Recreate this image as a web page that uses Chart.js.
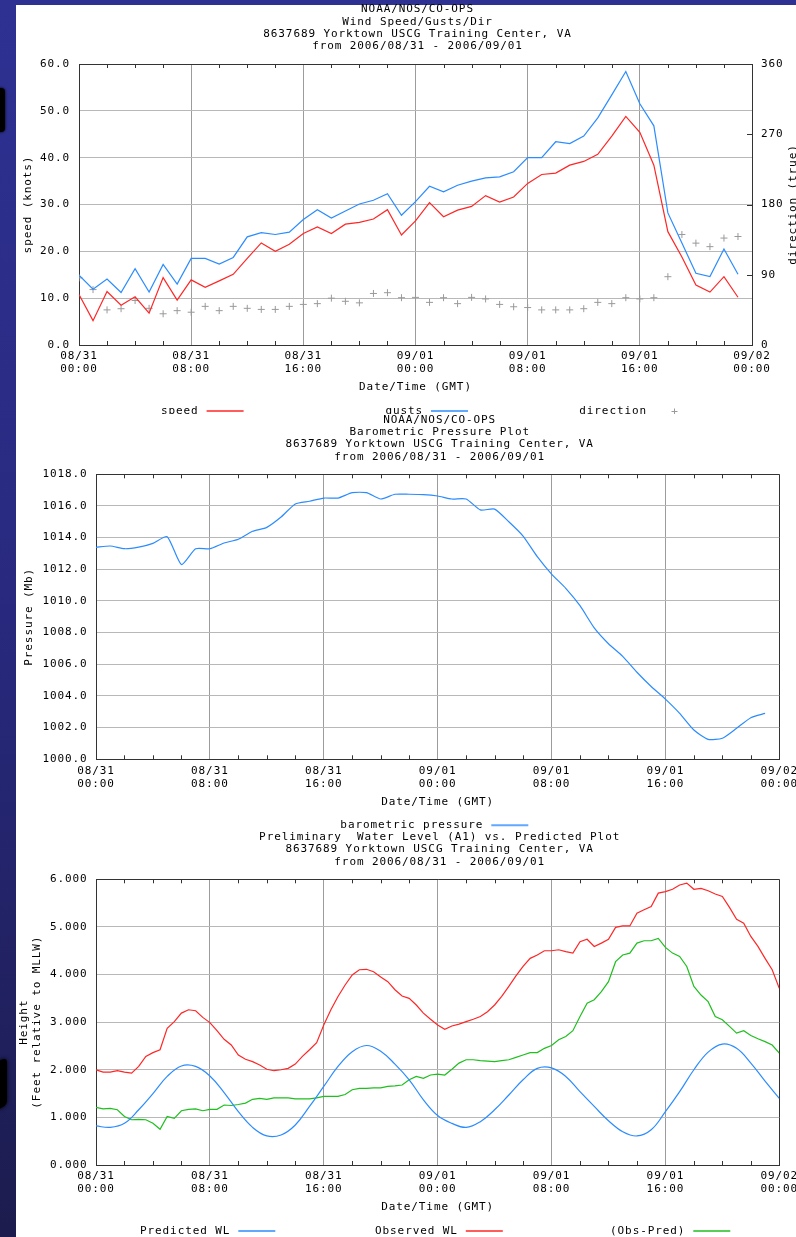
<!DOCTYPE html>
<html>
<head>
<meta charset="utf-8">
<script src="https://cdn.jsdelivr.net/npm/chart.js@4.4.1/dist/chart.umd.min.js"></script>
<style>
html, body { margin: 0; padding: 0; width: 796px; height: 1237px; overflow: hidden; }
body { position: relative; background: linear-gradient(180deg, #2e3192 0%, #28297e 50%, #1c1c4e 100%); }
#hoja { position: absolute; left: 16px; top: 5px; width: 780px; height: 1232px; background: #fff; }
.mancha { position: absolute; background: #000; }
canvas { position: absolute; left: 16px; }
#c2 { background: #fff; }
</style>
</head>
<body>
<div id="hoja"></div>
<div class="mancha" style="left:-6px; top:88px; width:11px; height:44px; border-radius:4px; box-shadow:0 0 3px #000;"></div>
<div class="mancha" style="left:-5px; top:1060px; width:12px; height:48px; border-radius:5px; transform:skewY(-25deg); box-shadow:0 0 4px #000;"></div>
<canvas id="c1" width="800" height="414" style="top:0px; width:800px; height:414px;"></canvas>
<canvas id="c2" width="800" height="418" style="top:414px; width:800px; height:418px;"></canvas>
<canvas id="c3" width="800" height="417" style="top:820px; width:800px; height:417px;"></canvas>
<script>
/* ── DATOS ── */
/* Etiquetas del eje X (cada 8 horas, de 08/31 00:00 a 09/02 00:00) */
var xTickLabels = [['08/31', '00:00'], ['08/31', '08:00'], ['08/31', '16:00'], ['09/01', '00:00'],
                   ['09/01', '08:00'], ['09/01', '16:00'], ['09/02', '00:00']];

/* Viento: un valor por hora (00:00 .. 23:00 del día siguiente) */
var windSpeed = [10.8, 5.2, 11.4, 8.5, 10.3, 6.8, 14.4, 9.6, 13.9, 12.3, 13.7, 15.1,
                 18.5, 21.8, 20.0, 21.5, 23.8, 25.2, 23.8, 25.8, 26.2, 26.9, 28.9, 23.5,
                 26.5, 30.4, 27.4, 28.8, 29.6, 31.9, 30.5, 31.6, 34.5, 36.4, 36.7, 38.4,
                 39.2, 40.7, 44.6, 48.8, 45.4, 38.4, 24.2, 18.8, 12.8, 11.3, 14.6, 10.2];
var windGusts = [14.9, 11.9, 14.1, 11.2, 16.3, 11.3, 17.2, 13.0, 18.5, 18.5, 17.3, 18.7,
                 23.1, 24.0, 23.6, 24.1, 26.8, 28.9, 27.1, 28.6, 30.1, 30.9, 32.3, 27.7,
                 30.6, 33.9, 32.7, 34.1, 35.0, 35.7, 35.9, 37.0, 40.0, 40.0, 43.4, 43.0,
                 44.6, 48.5, 53.4, 58.4, 51.5, 46.8, 28.2, 21.8, 15.3, 14.6, 20.5, 15.1];
var windDir = [86, 71, 45, 46.5, 57, 47, 40, 44, 42, 49.5, 44, 49.5,
               47, 45.6, 45.6, 49.5, 52, 53, 60, 56, 54, 66, 67, 60.6,
               61, 54.6, 60.6, 53, 61, 59, 52, 49, 48, 45, 45, 45,
               46.5, 54.6, 53, 60.6, 59, 60.6, 87.5, 141.6, 130.5, 126, 137, 139];
var speedTicks = ['0.0', '10.0', '20.0', '30.0', '40.0', '50.0', '60.0'];
var dirTicks = ['0', '90', '180', '270', '360'];

/* Presión barométrica: un valor por hora */
var pressure = [1013.39, 1013.47, 1013.3, 1013.4, 1013.64, 1014.06, 1012.3, 1013.3, 1013.3, 1013.66, 1013.9, 1014.4,
                1014.65, 1015.3, 1016.13, 1016.3, 1016.5, 1016.5, 1016.84, 1016.84, 1016.44, 1016.74, 1016.74, 1016.72,
                1016.63, 1016.44, 1016.44, 1015.75, 1015.8, 1015.0, 1014.1, 1012.8, 1011.7, 1010.8, 1009.7, 1008.3,
                1007.3, 1006.5, 1005.5, 1004.6, 1003.8, 1002.9, 1001.85, 1001.26, 1001.33, 1001.96, 1002.63, 1002.9];
var pressureTicks = ['1000.0', '1002.0', '1004.0', '1006.0', '1008.0', '1010.0', '1012.0', '1014.0', '1016.0', '1018.0'];

/* Nivel del agua: predicho cada hora, observado y diferencia cada media hora */
var predictedWL = [0.82, 0.79, 0.875, 1.16, 1.5, 1.86, 2.08, 2.07, 1.87, 1.52, 1.12, 0.79,
                   0.61, 0.63, 0.84, 1.23, 1.65, 2.07, 2.38, 2.51, 2.39, 2.12, 1.79, 1.37,
                   1.04, 0.875, 0.79, 0.91, 1.16, 1.47, 1.79, 2.03, 2.04, 1.86, 1.54, 1.23,
                   0.93, 0.70, 0.61, 0.74, 1.12, 1.54, 2.0, 2.37, 2.54, 2.45, 2.14, 1.76, 1.40];
var observedWL = [2.0, 1.95, 1.95, 1.98, 1.95, 1.93, 2.07, 2.28, 2.36, 2.42, 2.87, 3.01,
                  3.19, 3.26, 3.24, 3.10, 2.99, 2.82, 2.64, 2.52, 2.31, 2.22, 2.17, 2.10,
                  2.01, 1.98, 2.0, 2.03, 2.12, 2.28, 2.42, 2.57, 2.94, 3.26, 3.54, 3.78,
                  3.99, 4.10, 4.11, 4.06, 3.95, 3.85, 3.68, 3.55, 3.50, 3.36, 3.19, 3.06,
                  2.94, 2.85, 2.92, 2.96, 3.01, 3.06, 3.12, 3.22, 3.36, 3.54, 3.75, 3.97,
                  4.17, 4.34, 4.41, 4.50, 4.50, 4.52, 4.48, 4.45, 4.69, 4.74, 4.59, 4.66,
                  4.74, 4.99, 5.02, 5.02, 5.29, 5.36, 5.43, 5.71, 5.74, 5.79, 5.88, 5.92,
                  5.79, 5.81, 5.76, 5.69, 5.64, 5.41, 5.16, 5.08, 4.80, 4.59, 4.34, 4.10, 3.71];
var obsMinusPred = [1.21, 1.18, 1.19, 1.16, 1.02, 0.95, 0.96, 0.95, 0.875, 0.75, 1.02, 0.98,
                    1.14, 1.17, 1.18, 1.14, 1.17, 1.17, 1.26, 1.25, 1.27, 1.30, 1.38, 1.40,
                    1.38, 1.41, 1.41, 1.41, 1.39, 1.39, 1.39, 1.41, 1.44, 1.44, 1.44, 1.48,
                    1.58, 1.61, 1.61, 1.62, 1.62, 1.65, 1.66, 1.68, 1.79, 1.86, 1.82, 1.89,
                    1.91, 1.89, 2.01, 2.14, 2.21, 2.21, 2.19, 2.18, 2.17, 2.19, 2.21, 2.26,
                    2.31, 2.36, 2.36, 2.45, 2.51, 2.63, 2.70, 2.82, 3.12, 3.40, 3.47, 3.64,
                    3.85, 4.27, 4.41, 4.45, 4.66, 4.71, 4.71, 4.76, 4.57, 4.45, 4.38, 4.17,
                    3.75, 3.57, 3.43, 3.12, 3.05, 2.91, 2.77, 2.82, 2.72, 2.65, 2.59, 2.52, 2.35];
var heightTicks = ['0.000', '1.000', '2.000', '3.000', '4.000', '5.000', '6.000'];

var stationLine = '8637689 Yorktown USCG Training Center, VA';
var dateLine = 'from 2006/08/31 - 2006/09/01';

/* ── ESTILO GLOBAL ── */
var FAMILIA = "'DejaVu Sans Mono', 'Liberation Mono', monospace";
var FUENTE = '11px ' + FAMILIA;
var ESPACIADO = '0.9px'; /* letras separadas como en la fuente original */
var BORDE = '#333333';
var GRID_H = '#b8b8b8';
var GRID_V = '#9c9c9c';
var ROJO = '#ff2626';
var AZUL = '#2b8cff';
var VERDE = '#1fbf1f';
Chart.defaults.color = '#000';
Chart.defaults.font.family = FAMILIA;
Chart.defaults.font.size = 11;
Chart.defaults.font.lineHeight = '13px';
Chart.defaults.animation = false;
Chart.defaults.events = [];
Chart.defaults.plugins.legend.display = false;
Chart.defaults.plugins.tooltip.enabled = false;

/* Convierte una serie en puntos {x: hora, y: valor} */
function enHoras(valores, paso) {
    return valores.map(function (v, i) { return { x: i * paso, y: v }; });
}

/* ── PLUGIN: títulos, leyenda y marcas menores ── */
function crearAdornos(cfg) {
    return {
        id: 'adornos',
        /* el canvas pierde su estado al redimensionarse: se vuelve a poner el espaciado */
        beforeUpdate: function (chart) { chart.ctx.letterSpacing = ESPACIADO; },
        beforeDraw: function (chart) { chart.ctx.letterSpacing = ESPACIADO; },
        afterDraw: function (chart) {
            var ctx = chart.ctx, a = chart.chartArea, x = chart.scales.x;
            ctx.save();
            /* marcas cada 2 horas arriba y abajo */
            ctx.strokeStyle = BORDE;
            ctx.lineWidth = 1;
            ctx.beginPath();
            for (var h = 2; h < 48; h += 2) {
                if (h % 8 === 0) continue;
                var px = Math.round(x.getPixelForValue(h)) + 0.5;
                ctx.moveTo(px, a.top); ctx.lineTo(px, a.top + 4);
                ctx.moveTo(px, a.bottom); ctx.lineTo(px, a.bottom - 4);
            }
            /* marcas hacia dentro del eje derecho */
            if (chart.scales.y2) {
                var s2 = chart.scales.y2;
                s2.ticks.forEach(function (t) {
                    var py = Math.round(s2.getPixelForValue(t.value)) + 0.5;
                    ctx.moveTo(a.right, py); ctx.lineTo(a.right - 5, py);
                });
            }
            ctx.stroke();

            /* título de varias líneas centrado sobre el área del gráfico */
            ctx.fillStyle = '#000';
            ctx.font = FUENTE;
            ctx.textBaseline = 'middle';
            ctx.textAlign = 'center';
            var cx = (a.left + a.right) / 2 + 2;
            var n = cfg.title.length;
            cfg.title.forEach(function (t, i) {
                ctx.fillText(t, cx, a.top - 17.5 - (n - 1 - i) * 12.3);
            });

            /* leyenda: texto y muestra a la derecha */
            var ly = a.bottom + 66;
            chart.data.datasets.forEach(function (ds, i) {
                var fin = a.left + cfg.legendEnds[i];
                ctx.textAlign = 'right';
                ctx.fillStyle = '#000';
                ctx.fillText(ds.label, fin - 45, ly);
                ctx.strokeStyle = ds.borderColor;
                if (ds.showLine === false) {
                    ctx.lineWidth = 1;
                    var c = Math.round(fin - 18) + 0.5, cy = Math.round(ly) + 0.5;
                    ctx.beginPath();
                    ctx.moveTo(c - 3, cy); ctx.lineTo(c + 3, cy);
                    ctx.moveTo(c, cy - 3); ctx.lineTo(c, cy + 3);
                    ctx.stroke();
                } else {
                    ctx.globalAlpha = 0.75;
                    ctx.lineWidth = 2;
                    ctx.beginPath();
                    ctx.moveTo(fin - 37, ly); ctx.lineTo(fin, ly);
                    ctx.stroke();
                    ctx.globalAlpha = 1;
                }
            });

            /* título del eje derecho, leído de abajo hacia arriba */
            if (cfg.rightTitle) {
                ctx.fillStyle = '#000';
                ctx.translate(a.right + 41.5, (a.top + a.bottom) / 2);
                ctx.rotate(-Math.PI / 2);
                ctx.textAlign = 'center';
                ctx.fillText(cfg.rightTitle, 0, 0);
            }
            ctx.restore();
        }
    };
}

/* Eje X común: 0..48 horas, líneas cada 8 horas */
function ejeX(alto, padTitulo) {
    return {
        type: 'linear', min: 0, max: 48,
        ticks: { stepSize: 8, padding: 5, maxRotation: 0, autoSkip: false,
                 callback: function (v, i) { return xTickLabels[i]; } },
        grid: { drawTicks: false, lineWidth: 1,
                color: function (c) { return (c.index === 0 || c.index === 6) ? BORDE : GRID_V; } },
        border: { color: BORDE },
        title: { display: true, text: 'Date/Time (GMT)', padding: { top: 0, bottom: padTitulo } },
        afterFit: function (s) { s.height = alto; }
    };
}

/* Eje Y izquierdo común */
function ejeY(min, max, paso, etiquetas, titulo, ancho, padEtiqueta, padTitulo) {
    return {
        position: 'left', min: min, max: max,
        ticks: { stepSize: paso, padding: padEtiqueta,
                 callback: function (v, i) { return etiquetas[i]; } },
        grid: { drawTicks: false, lineWidth: 1,
                color: function (c) { return c.index === etiquetas.length - 1 ? BORDE : GRID_H; } },
        border: { color: BORDE },
        title: { display: true, text: titulo, padding: { top: padTitulo, bottom: 0 } },
        afterFit: function (s) { s.width = ancho; }
    };
}

/* ── GRÁFICO 1: viento ── */
new Chart(document.getElementById('c1'), {
    type: 'line',
    data: {
        datasets: [
            { label: 'speed', data: enHoras(windSpeed, 1), borderColor: ROJO, borderWidth: 1.2,
              pointRadius: 0, tension: 0, yAxisID: 'y' },
            { label: 'gusts', data: enHoras(windGusts, 1), borderColor: AZUL, borderWidth: 1.2,
              pointRadius: 0, tension: 0, yAxisID: 'y' },
            { label: 'direction', data: enHoras(windDir, 1), borderColor: '#9a9a9a', showLine: false,
              pointStyle: 'cross', pointRadius: 3.5, borderWidth: 1, yAxisID: 'y2' }
        ]
    },
    options: {
        responsive: false,
        layout: { padding: { top: 64, left: 0, right: 0, bottom: 0 } },
        scales: {
            x: ejeX(69, 20.8),
            y: ejeY(0, 60, 10, speedTicks, 'speed (knots)', 63, 9, 5.5),
            y2: {
                position: 'right', min: 0, max: 360,
                ticks: { stepSize: 90, padding: 9, callback: function (v, i) { return dirTicks[i]; } },
                grid: { drawOnChartArea: false, drawTicks: false },
                border: { color: BORDE },
                afterFit: function (s) { s.width = 64; }
            }
        }
    },
    plugins: [crearAdornos({
        title: ['NOAA/NOS/CO-OPS', 'Wind Speed/Gusts/Dir', stationLine, dateLine],
        legendEnds: [164.6, 389, 613],
        rightTitle: 'direction (true)'
    })]
});

/* ── GRÁFICO 2: presión barométrica ── */
new Chart(document.getElementById('c2'), {
    type: 'line',
    data: {
        datasets: [
            { label: 'barometric pressure', data: enHoras(pressure, 1), borderColor: AZUL, borderWidth: 1.2,
              pointRadius: 0, tension: 0.2 }
        ]
    },
    options: {
        responsive: false,
        layout: { padding: { top: 60.3, left: 0, right: 36.7, bottom: 0 } },
        scales: {
            x: ejeX(72.7, 23.8),
            y: ejeY(1000, 1018, 2, pressureTicks, 'Pressure (Mb)', 80, 8.4, 6.5)
        }
    },
    plugins: [crearAdornos({
        title: ['NOAA/NOS/CO-OPS', 'Barometric Pressure Plot', stationLine, dateLine],
        legendEnds: [432.3]
    })]
});

/* ── GRÁFICO 3: nivel del agua ── */
new Chart(document.getElementById('c3'), {
    type: 'line',
    data: {
        datasets: [
            { label: 'Predicted WL', data: enHoras(predictedWL, 1), borderColor: AZUL, borderWidth: 1.2,
              pointRadius: 0, tension: 0.4 },
            { label: 'Observed WL', data: enHoras(observedWL, 0.5), borderColor: ROJO, borderWidth: 1.2,
              pointRadius: 0, tension: 0 },
            { label: '(Obs-Pred)', data: enHoras(obsMinusPred, 0.5), borderColor: VERDE, borderWidth: 1.2,
              pointRadius: 0, tension: 0 }
        ]
    },
    options: {
        responsive: false,
        layout: { padding: { top: 59.3, left: 0, right: 36.7, bottom: 0 } },
        scales: {
            x: ejeX(72, 23.8),
            y: ejeY(0, 6, 1, heightTicks, ['Height', '(Feet relative to MLLW)'], 80, 8.4, 1.5)
        }
    },
    plugins: [crearAdornos({
        title: ['Preliminary  Water Level (A1) vs. Predicted Plot', stationLine, dateLine],
        legendEnds: [179.3, 406.8, 634.3]
    })]
});
</script>
</body>
</html>
